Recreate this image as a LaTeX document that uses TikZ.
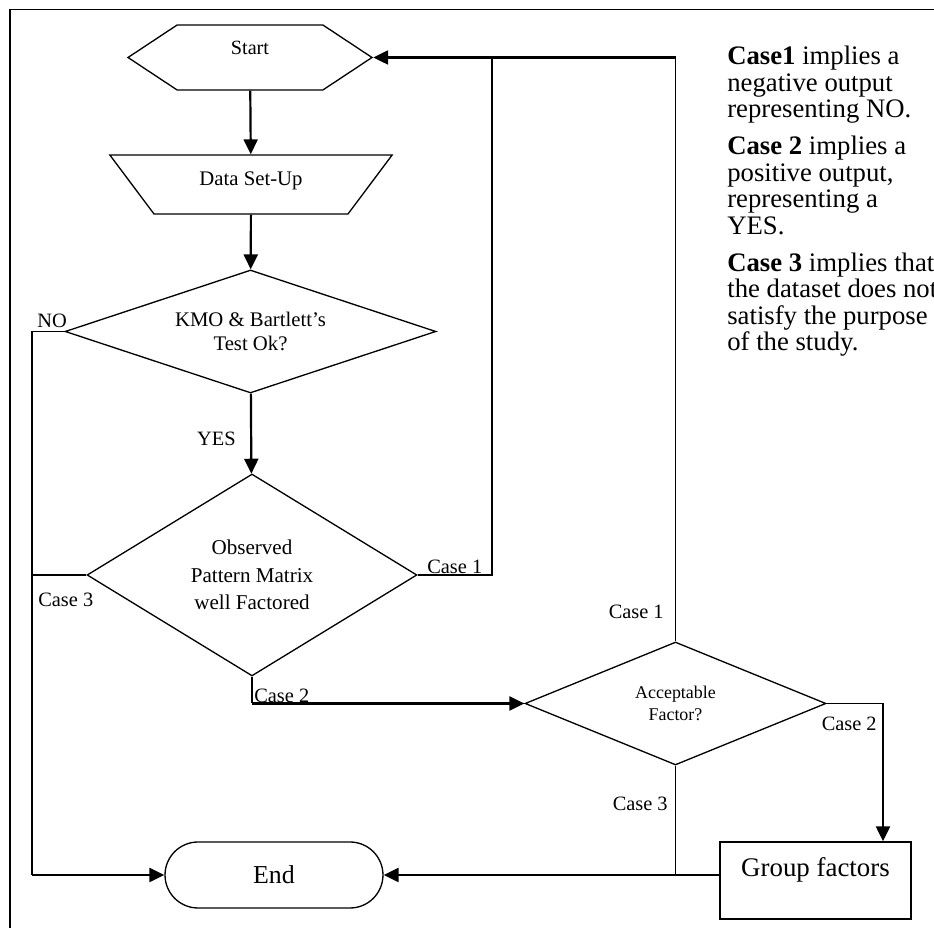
\documentclass[tikz,border=0pt]{standalone}
\usepackage{fontspec}
\setmainfont{Liberation Serif}
\usetikzlibrary{shapes.geometric,shapes.symbols,shapes.misc,arrows.meta}
\tikzset{box/.style={draw, line width=0.75pt, inner sep=0pt, align=center},
  hexa/.style={box, signal, signal to=west and east, signal pointer angle=67, minimum width=4.88cm, minimum height=1.3cm, text depth=0.4cm, font=\fontsize{11.5}{13}\selectfont},
  inbox/.style={box, trapezium, trapezium left angle=133.5, trapezium right angle=133.5, trapezium stretches=true, minimum width=5.66cm, minimum height=1.18cm, text depth=0.22cm, font=\fontsize{11.8}{13}\selectfont},
  choice/.style={box, diamond},
  stop/.style={box, rounded rectangle, minimum width=4.36cm, minimum height=1.32cm, font=\fontsize{14.7}{16}\selectfont},
  proc/.style={box, rectangle, minimum width=3.82cm, minimum height=1.54cm, text height=0.37cm, text depth=0.51cm, font=\fontsize{15.3}{17}\selectfont},
  link/.style={line width=0.75pt},
  flow/.style={line width=1.25pt, -{Triangle[length=0.3cm,width=0.28cm]}},
  tag/.style={inner sep=0pt, font=\fontsize{11.6}{13}\selectfont},
  notes/.style={inner sep=0pt, align=left, font=\fontsize{15.2}{15.08}\selectfont}}

\begin{document}
\begin{tikzpicture}[x=0.02cm, y=-0.02cm]
\useasboundingbox (0,0) rectangle (934,928);
\clip (0,0) rectangle (934,928);
\draw[line width=1pt] (10,930) -- (10,9.5) -- (936,9.5);

\node[hexa] (start) at (250,57.5) {Start};
\node[inbox] (data) at (251,184.5) {Data Set-Up};
\node[choice, aspect=3, minimum width=7.42cm, minimum height=2.46cm, font=\fontsize{11.8}{13.6}\selectfont] (kmo) at (250.5,331.5) {KMO \& Bartlett’s\\Test Ok?};
\node[choice, aspect=1.6, minimum width=6.6cm, minimum height=4.04cm, font=\fontsize{12}{15.6}\selectfont] (obs) at (252,575) {Observed\\Pattern Matrix\\well Factored};
\node[choice, aspect=2.45, minimum width=6.02cm, minimum height=2.46cm, font=\fontsize{10.2}{12.5}\selectfont] (acc) at (675.5,703.5) {Acceptable\\Factor?};
\node[stop] (end) at (274,875) {End};
\node[proc] (grp) at (815.5,880.5) {Group factors};

\coordinate (lbus) at (32,875);
\coordinate (rbus) at (492,57.5);
\coordinate (tbus) at (675.5,57.5);
\coordinate (c2) at (obs.south |- acc.west);
\coordinate (c2r) at (883,703.5);

\draw[flow] (start) -- (data);
\draw[flow] (data) -- (kmo);
\draw[flow] (kmo) -- (obs);
\draw[link] (kmo.west) -| (lbus);
\draw[flow] (lbus) -- (end.west);
\draw[link] (obs.west) -- (obs.west -| lbus);
\draw[link] (obs.east) -| (rbus);
\draw[link] (acc.north) -- (tbus);
\draw[flow] (tbus) -- (start.east);
\draw[link] (obs.south) -- (c2);
\draw[flow] (c2) -- (acc.west);
\draw[link] (acc.east) -- (c2r);
\draw[flow] (c2r) -- (c2r |- grp.north);
\draw[link] (acc.south) -- (acc.south |- end.east);
\draw[flow] (grp.west |- end.east) -- (end.east);

\node[tag, anchor=base west] at (37,328) {NO};
\node[tag, anchor=east] at (236,439) {YES};
\node[tag, anchor=base west] at (427,574) {Case 1};
\node[tag, anchor=base west] at (38,607) {Case 3};
\node[tag, anchor=base west] at (254,703) {Case 2};
\node[tag, anchor=base east] at (664,619) {Case 1};
\node[tag, anchor=base east] at (877,731) {Case 2};
\node[tag, anchor=base east] at (668,811) {Case 3};

\node[notes, anchor=north west] (legend) at (727,46) {\textbf{Case1} implies a\\ negative output\\ representing NO.\\[0.21cm] \textbf{Case 2} implies a\\ positive output,\\ representing a\\ YES.\\[0.21cm] \textbf{Case 3} implies that\\ the dataset does not\\ satisfy the purpose\\ of the study.};
\end{tikzpicture}
\end{document}
